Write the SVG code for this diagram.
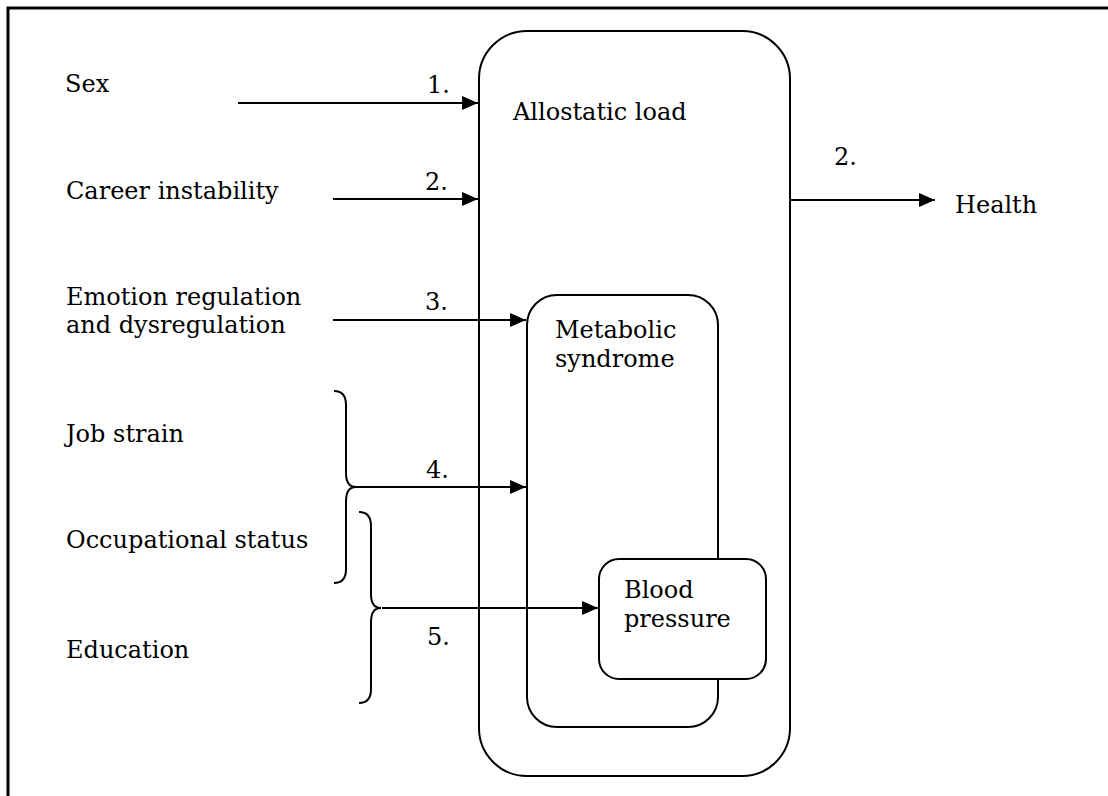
<svg xmlns="http://www.w3.org/2000/svg" width="1108" height="796" viewBox="0 0 1108 796">
<style>
text{font-family:"DejaVu Serif","Liberation Serif",serif;font-size:24px;fill:#000}
.box{fill:#fff;stroke:#000;stroke-width:2}
.ln{fill:none;stroke:#000;stroke-width:2}
</style>
<defs>
<marker id="ah" markerWidth="16" markerHeight="14" refX="16" refY="7" orient="auto" markerUnits="userSpaceOnUse">
<path d="M0,0 L16,7 L0,14 Z" fill="#000"/>
</marker>
</defs>
<rect width="1108" height="796" fill="#fff"/>
<g id="frame">
<path d="M8,796 V8 H1108" fill="none" stroke="#000" stroke-width="3"/>
</g>
<g id="allostatic">
<rect class="box" x="479" y="31" width="311" height="745" rx="48" ry="48"/>
<text x="513" y="120">Allostatic load</text>
</g>
<g id="metabolic">
<rect class="box" x="527" y="295" width="191" height="432" rx="30" ry="30"/>
<text x="555" y="338">Metabolic</text>
<text x="555" y="367">syndrome</text>
</g>
<g id="bloodpressure">
<rect class="box" x="599" y="559" width="167" height="120" rx="20" ry="20"/>
<text x="624" y="598">Blood</text>
<text x="624" y="627">pressure</text>
</g>
<g id="inputs">
<text x="65" y="92">Sex</text>
<text x="66" y="199">Career instability</text>
<text x="66" y="305">Emotion regulation</text>
<text x="66" y="333">and dysregulation</text>
<text x="66" y="442">Job strain</text>
<text x="66" y="548">Occupational status</text>
<text x="66" y="658">Education</text>
</g>
<g id="health">
<text x="955" y="213">Health</text>
</g>
<g id="connectors">
<line class="ln" x1="238" y1="103" x2="478" y2="103" marker-end="url(#ah)"/>
<line class="ln" x1="333" y1="199" x2="478" y2="199" marker-end="url(#ah)"/>
<line class="ln" x1="333" y1="320" x2="526" y2="320" marker-end="url(#ah)"/>
<line class="ln" x1="355" y1="487" x2="526" y2="487" marker-end="url(#ah)"/>
<line class="ln" x1="382" y1="608" x2="598" y2="608" marker-end="url(#ah)"/>
<line class="ln" x1="790" y1="200" x2="935" y2="200" marker-end="url(#ah)"/>
<path class="ln" d="M334,391 Q346,391 346,405 V473 Q346,487 356,487 Q346,487 346,501 V569 Q346,583 334,583"/>
<path class="ln" d="M359,512 Q371,512 371,526 V594 Q371,608 381,608 Q371,608 371,622 V689 Q371,703 359,703"/>
<text x="427" y="93">1.</text>
<text x="425" y="190">2.</text>
<text x="425" y="310">3.</text>
<text x="426" y="478">4.</text>
<text x="427" y="645">5.</text>
<text x="834" y="165">2.</text>
</g>
</svg>
